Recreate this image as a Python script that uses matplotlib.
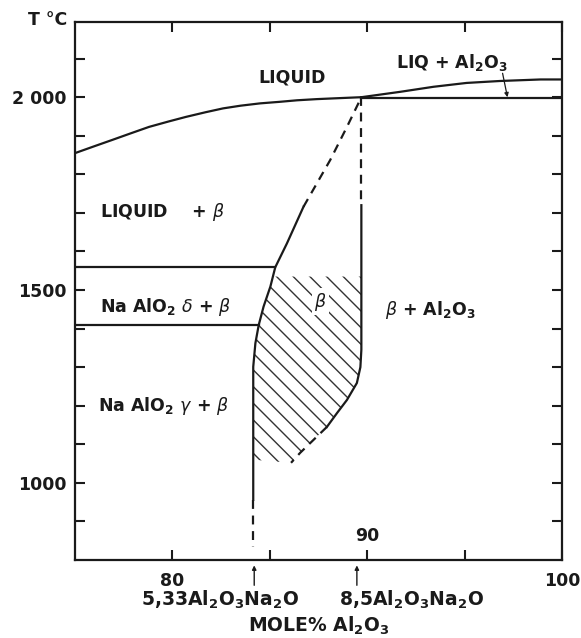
import matplotlib
matplotlib.use("Agg")
import matplotlib.pyplot as plt

# ---------------- data ----------------
# liquidus, left branch (LIQUID / LIQUID + beta)
liq_left_x = [75.0, 76.0, 76.9, 77.9, 78.8, 79.8, 80.7, 81.7, 82.6, 83.5, 84.5, 85.5, 86.4, 87.4, 88.3, 89.7]
liq_left_y = [1855, 1873, 1889, 1907, 1923, 1937, 1949, 1961, 1971, 1978, 1984, 1988, 1992, 1995, 1997, 2000]
# liquidus, right branch (LIQ + Al2O3)
liq_right_x = [89.7, 91.7, 93.4, 95.1, 96.8, 98.9, 100.0]
liq_right_y = [2000, 2014, 2027, 2037, 2042, 2046, 2046]
# peritectic horizontal at ~2000 C
peri_x = [89.7, 100.0]
peri_y = [1997, 1997]

# beta phase, left (Na-rich) boundary
beta_left_x = [84.15, 84.15, 84.26, 84.43, 84.68, 85.03, 85.28, 85.88, 86.73]
beta_left_y = [956, 1301, 1362, 1409, 1457, 1509, 1559, 1621, 1716]
beta_left_dash_x = [86.73, 88.1, 88.96, 89.7]
beta_left_dash_y = [1716, 1837, 1923, 2000]
beta_low_dash_x = [84.15, 84.15]
beta_low_dash_y = [956, 835]

# beta phase, right (Al-rich) boundary
beta_right_dash_top_x = [89.7, 89.7]
beta_right_dash_top_y = [2000, 1720]
beta_right_x = [89.7, 89.7, 89.65, 89.47, 88.96, 88.45, 87.93]
beta_right_y = [1720, 1345, 1300, 1259, 1215, 1181, 1145]
beta_right_dash_x = [87.93, 87.5, 86.56, 86.09]
beta_right_dash_y = [1145, 1124, 1078, 1052]

# NaAlO2 transitions
delta_x = [75.0, 85.28]
delta_y = [1560, 1560]
gamma_x = [75.0, 84.43]
gamma_y = [1409, 1409]

# hatched beta field
hatch_x = [84.15, 84.15, 84.26, 84.43, 84.68, 85.03, 85.16, 89.7, 89.7,
           89.65, 89.47, 88.96, 88.45, 87.93, 87.5, 86.56, 86.09]
hatch_y = [1060, 1301, 1362, 1409, 1457, 1509, 1535, 1535, 1345,
           1300, 1259, 1215, 1181, 1145, 1124, 1078, 1052]

# compounds marked under the axis
compound_x = [84.2, 89.47]

# axes ticks
x_ticks = [80, 85, 90, 95, 100]
x_tick_labels = ["80", "", "", "", "100"]
y_ticks = [900, 1000, 1100, 1200, 1300, 1400, 1500, 1600, 1700, 1800, 1900, 2000, 2100]
y_tick_labels = ["", "1000", "", "", "", "", "1500", "", "", "", "", "2 000", ""]

# ---------------- figure ----------------
plt.rcParams["font.family"] = ["DejaVu Sans"]
plt.rcParams["mathtext.fontset"] = "dejavusans"
plt.rcParams["hatch.linewidth"] = 1.0
plt.rcParams["hatch.color"] = "#333333"

W, H = 581, 638
fig = plt.figure(figsize=(W / 100, H / 100), dpi=100)
ax = fig.add_axes([75 / W, 1 - 560 / H, 487 / W, 538 / H])
ax.set_xlim(75, 100)
ax.set_ylim(800, 2195)

lc = "#1a1a1a"
lw = 1.6
ax.fill(hatch_x, hatch_y, facecolor="none", edgecolor="#333333",
        hatch="\\\\", linewidth=0)

ax.plot(liq_left_x, liq_left_y, color=lc, lw=lw)
ax.plot(liq_right_x, liq_right_y, color=lc, lw=lw)
ax.plot(peri_x, peri_y, color=lc, lw=lw)
ax.plot(beta_left_x, beta_left_y, color=lc, lw=lw)
ax.plot(beta_left_dash_x, beta_left_dash_y, color=lc, lw=lw, ls=(0, (4, 3)))
ax.plot(beta_low_dash_x, beta_low_dash_y, color=lc, lw=lw, ls=(0, (4, 3)))
ax.plot(beta_right_dash_top_x, beta_right_dash_top_y, color=lc, lw=lw, ls=(0, (4, 3)))
ax.plot(beta_right_x, beta_right_y, color=lc, lw=lw)
ax.plot(beta_right_dash_x, beta_right_dash_y, color=lc, lw=lw, ls=(0, (4, 3)))
ax.plot(delta_x, delta_y, color=lc, lw=lw)
ax.plot(gamma_x, gamma_y, color=lc, lw=lw)

# axes styling
for s in ax.spines.values():
    s.set_linewidth(1.6)
    s.set_color(lc)
ax.set_xticks(x_ticks)
ax.set_xticklabels(x_tick_labels)
ax.set_yticks(y_ticks)
ax.set_yticklabels(y_tick_labels)
ax.tick_params(direction="in", top=True, right=True, length=7, width=1.5,
               color=lc, labelsize=12.5, labelcolor=lc)
ax.tick_params(axis="x", pad=9)
ax.tick_params(axis="y", pad=6)
for t in ax.get_xticklabels() + ax.get_yticklabels():
    t.set_fontweight("bold")

fs = 12.5
kw = dict(fontsize=fs, fontweight="bold", color=lc)
kw2 = dict(fontsize=13.5, fontweight="bold", color=lc)
ax.text(86.15, 2052, "LIQUID", ha="center", va="center", **kw)
ax.text(94.36, 2090, r"LIQ + Al$_\mathbf{2}$O$_\mathbf{3}$", ha="center", va="center", **kw)
ax.annotate("", xy=(97.2, 2000), xytext=(96.95, 2062),
            arrowprops=dict(arrowstyle="-|>", color=lc, lw=0.9,
                            mutation_scale=6, shrinkA=0, shrinkB=0))
ax.text(76.3, 1702, r"LIQUID    + $\beta$", ha="left", va="center", **kw)
ax.text(76.3, 1455, r"Na AlO$_\mathbf{2}$ $\delta$ + $\beta$", ha="left", va="center", **kw)
ax.text(76.2, 1200, r"Na AlO$_\mathbf{2}$ $\gamma$ + $\beta$", ha="left", va="center", **kw)
ax.text(90.9, 1448, r"$\beta$ + Al$_\mathbf{2}$O$_\mathbf{3}$", ha="left", va="center", **kw)
ax.text(87.6, 1470, r"$\beta$", ha="center", va="center",
        bbox=dict(boxstyle="square,pad=0.15", fc="white", ec="none"), **kw)
ax.text(90.0, 862, "90", ha="center", va="center", **kw)

# compound markers below the axis
xt = ax.get_xaxis_transform()
for cx in compound_x:
    ax.annotate("", xy=(cx, -0.010), xytext=(cx, -0.047), xycoords=xt,
                textcoords=xt, annotation_clip=False,
                arrowprops=dict(arrowstyle="-|>", color=lc, lw=1.0,
                                mutation_scale=6, shrinkA=0, shrinkB=0))
ax.text(82.45, -0.074, r"5,33Al$_\mathbf{2}$O$_\mathbf{3}$Na$_\mathbf{2}$O",
        transform=xt, ha="center", va="center", **kw2)
ax.text(92.25, -0.074, r"8,5Al$_\mathbf{2}$O$_\mathbf{3}$Na$_\mathbf{2}$O",
        transform=xt, ha="center", va="center", **kw2)
ax.text(87.5, -0.122, r"MOLE% Al$_\mathbf{2}$O$_\mathbf{3}$",
        transform=xt, ha="center", va="center", **kw2)

fig.text(67 / W, 1 - 20 / H, "T °C", ha="right", va="center", **kw)

fig.savefig("out.png", dpi=100)
